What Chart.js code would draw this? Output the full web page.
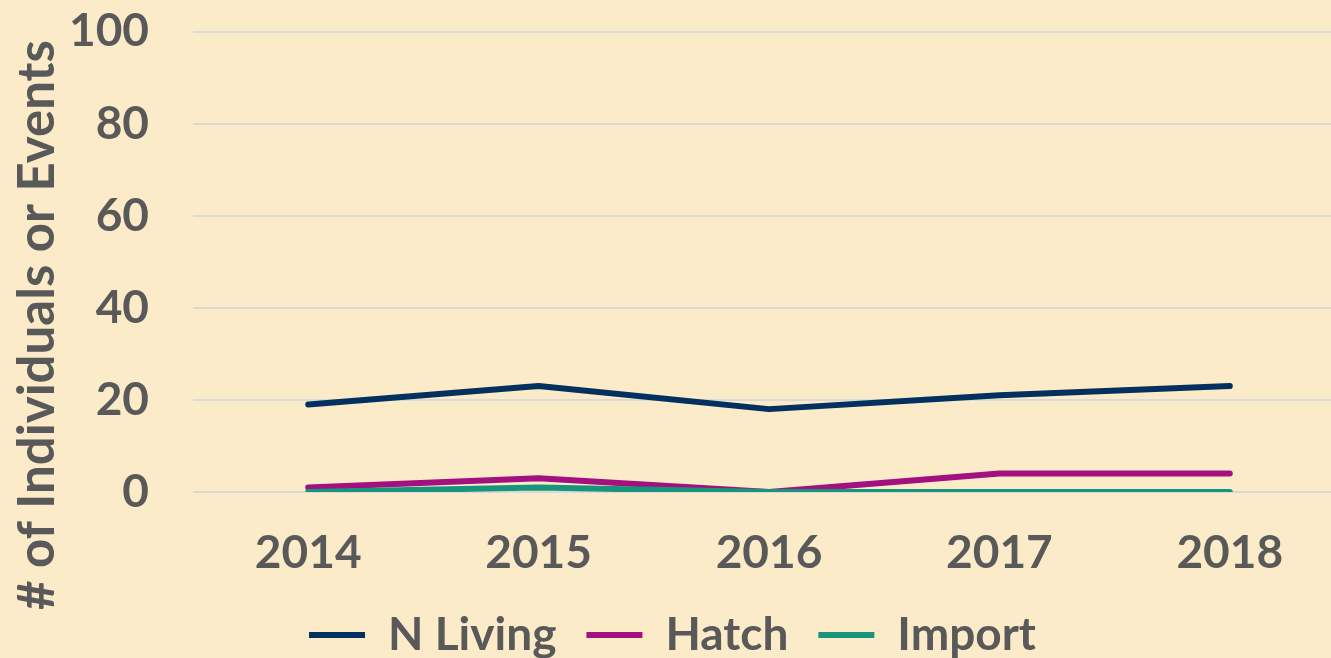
<!DOCTYPE html>
<html>
<head>
<meta charset="utf-8">
<script src="https://cdn.jsdelivr.net/npm/chart.js@4/dist/chart.umd.min.js"></script>
<style>
  html, body { margin: 0; padding: 0; background: #FBEBC9; overflow: hidden; }
  #wrap { position: absolute; left: 0; top: 0; width: 1346px; height: 668px; }
</style>
</head>
<body>
<div id="wrap"><canvas id="chart" width="1346" height="668"></canvas></div>
<script>
// data
const years = ['2014', '2015', '2016', '2017', '2018'];
const nLiving = [19, 23, 18, 21, 23];
const hatch = [1, 3, 0, 4, 4];
const imports = [0, 1, 0, 0, 0];
const yTicks = [0, 20, 40, 60, 80, 100];
const yTitle = '# of Individuals or Events';

const textColor = '#595959';
const fontFamily = 'Lato, "Noto Sans", sans-serif';

// later series sit on top, as in the original
function series(label, data, color, order) {
    return {
        label: label,
        data: data,
        order: order,
        borderColor: color,
        backgroundColor: color,
        borderWidth: 6,
        pointRadius: 0,
        tension: 0,
        borderCapStyle: 'round',
        borderJoinStyle: 'round'
    };
}

// y title drawn by hand so it can sit lower than the plot centre, like the original
const yTitlePlugin = {
    id: 'yTitle',
    afterDraw(chart) {
        const c = chart.ctx;
        c.save();
        c.translate(38, 325);
        c.rotate(-Math.PI / 2);
        c.fillStyle = textColor;
        c.font = 'bold 51px ' + fontFamily;
        c.textAlign = 'center';
        c.textBaseline = 'middle';
        c.fillText(yTitle, 0, 0);
        c.restore();
    }
};

const ctx = document.getElementById('chart').getContext('2d');
new Chart(ctx, {
    type: 'line',
    data: {
        labels: years,
        datasets: [
            series('N Living', nLiving, '#02305F', 3),
            series('Hatch', hatch, '#A2117F', 2),
            series('Import', imports, '#17957A', 1)
        ]
    },
    plugins: [yTitlePlugin],
    options: {
        responsive: false,
        animation: false,
        layout: { padding: { top: 0, right: 1, left: 0, bottom: 0 } },
        scales: {
            x: {
                offset: true,
                grid: { display: false },
                border: { display: false },
                ticks: {
                    color: textColor,
                    padding: 26,
                    font: { family: fontFamily, size: 46, weight: 'bold' }
                },
                afterFit: function(scale) { scale.height = 90; }
            },
            y: {
                min: 0,
                max: 100,
                afterBuildTicks: function(scale) {
                    scale.ticks = yTicks.map(v => ({ value: v }));
                },
                grid: { color: '#D9D9D9', lineWidth: 2, drawTicks: true, tickLength: 40, tickColor: 'rgba(0,0,0,0)' },
                border: { display: false },
                ticks: {
                    color: textColor,
                    padding: 4,
                    font: { family: fontFamily, size: 46, weight: 'bold' }
                },
                afterFit: function(scale) { scale.width = 193; }
            }
        },
        plugins: {
            tooltip: { enabled: false },
            legend: {
                position: 'bottom',
                labels: {
                    color: textColor,
                    boxWidth: 56,
                    boxHeight: 6,
                    padding: 30,
                    font: { family: fontFamily, size: 46, weight: 'bold' },
                    generateLabels: function(chart) {
                        return chart.data.datasets.map((ds, i) => ({
                            text: ds.label,
                            fillStyle: ds.borderColor,
                            strokeStyle: ds.borderColor,
                            lineWidth: 0,
                            fontColor: textColor,
                            datasetIndex: i,
                            hidden: false
                        }));
                    }
                }
            }
        }
    }
});
</script>
</body>
</html>
